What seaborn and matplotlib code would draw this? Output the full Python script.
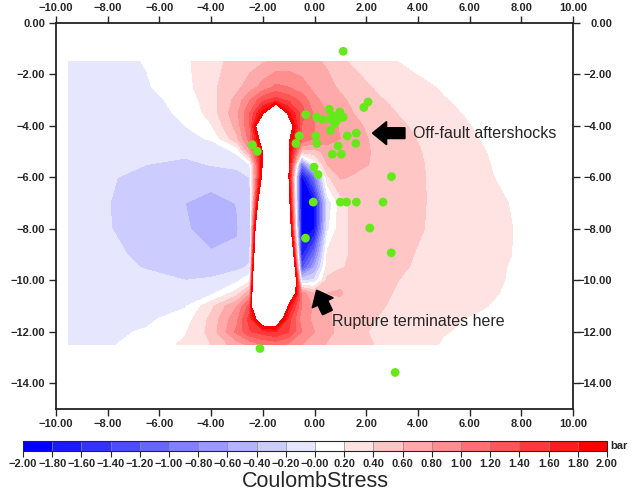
import matplotlib
matplotlib.use("Agg")
import matplotlib.pyplot as plt
import seaborn as sns
import numpy as np
import pandas as pd
from matplotlib.colors import ListedColormap, BoundaryNorm
from matplotlib.transforms import ScaledTranslation

# grid of the stress model (km)
x_km = [-9.5, -8.0, -6.5, -5.0, -4.0, -3.0, -2.5, -2.0, -1.5, -1.0, -0.5,
        0.0, 0.5, 1.0, 1.5, 2.5, 3.5, 5.0, 6.5, 8.0, 9.5]
depth_km = [-1.5, -2.5, -3.0, -3.5, -4.0, -4.5, -5.0, -5.5, -6.0, -7.0, -8.0,
            -9.0, -9.5, -10.0, -10.5, -11.0, -11.5, -12.0, -12.5]

# Coulomb stress change (bar), one row per depth; > 2 inside the rupture (left blank)
stress = [
    [-0.08, -0.06, 0.01, 0.16, 0.34, 0.46, 0.52, 0.58, 0.64, 0.68, 0.68, 0.63, 0.57, 0.43, 0.37, 0.25, 0.18, 0.11, 0.07, 0.04, 0.02],
    [-0.10, -0.08, -0.02, 0.13, 0.35, 0.55, 0.70, 0.88, 1.05, 1.00, 0.88, 0.75, 0.66, 0.57, 0.50, 0.36, 0.28, 0.18, 0.11, 0.06, 0.03],
    [-0.11, -0.10, -0.06, 0.07, 0.32, 0.67, 1.00, 1.35, 1.50, 1.35, 1.15, 0.85, 0.72, 0.64, 0.56, 0.42, 0.33, 0.21, 0.13, 0.07, 0.04],
    [-0.12, -0.11, -0.08, 0.04, 0.28, 0.75, 1.20, 1.90, 3.20, 1.85, 1.30, 0.95, 0.80, 0.70, 0.60, 0.46, 0.37, 0.24, 0.15, 0.08, 0.04],
    [-0.13, -0.12, -0.10, 0.00, 0.18, 0.68, 1.20, 3.00, 6.00, 2.40, 1.20, 1.00, 0.88, 0.78, 0.66, 0.50, 0.41, 0.27, 0.17, 0.09, 0.05],
    [-0.14, -0.14, -0.13, -0.06, 0.02, 0.55, 1.10, 2.40, 6.50, 2.10, 1.20, 0.98, 0.88, 0.80, 0.68, 0.54, 0.44, 0.30, 0.19, 0.10, 0.05],
    [-0.15, -0.16, -0.16, -0.15, -0.14, 0.03, 0.75, 2.05, 6.50, 2.05, 0.50, 0.50, 0.70, 0.75, 0.68, 0.56, 0.46, 0.32, 0.21, 0.11, 0.06],
    [-0.16, -0.18, -0.20, -0.25, -0.19, -0.12, 0.00, 2.10, 6.50, 2.10, -1.00, 0.05, 0.60, 0.72, 0.66, 0.56, 0.47, 0.33, 0.22, 0.12, 0.06],
    [-0.17, -0.19, -0.23, -0.30, -0.32, -0.33, -0.20, 2.30, 6.50, 2.10, -1.90, -1.00, 0.35, 0.62, 0.58, 0.52, 0.47, 0.34, 0.23, 0.13, 0.07],
    [-0.18, -0.195, -0.28, -0.40, -0.47, -0.395, -0.30, 3.50, 7.00, 2.45, -1.95, -1.85, -0.15, 0.30, 0.45, 0.50, 0.46, 0.35, 0.26, 0.17, 0.10],
    [-0.18, -0.19, -0.28, -0.38, -0.48, -0.41, -0.30, 5.40, 7.00, 3.00, -1.95, -1.80, -0.05, 0.32, 0.44, 0.49, 0.45, 0.35, 0.27, 0.18, 0.10],
    [-0.16, -0.17, -0.23, -0.30, -0.38, -0.38, -0.25, 7.00, 8.00, 4.50, -1.70, -1.00, 0.25, 0.35, 0.43, 0.47, 0.42, 0.33, 0.26, 0.18, 0.10],
    [-0.15, -0.15, -0.21, -0.27, -0.30, -0.25, -0.17, 8.50, 9.00, 5.30, -1.30, -0.60, 0.30, 0.38, 0.44, 0.47, 0.41, 0.32, 0.25, 0.17, 0.10],
    [-0.13, -0.12, -0.15, -0.20, -0.17, -0.05, 0.15, 9.00, 9.00, 5.40, -0.25, -0.15, 0.45, 0.55, 0.50, 0.46, 0.38, 0.30, 0.24, 0.17, 0.10],
    [-0.11, -0.10, -0.11, -0.14, -0.06, 0.30, 0.75, 8.60, 9.00, 3.30, 0.90, 0.60, 0.60, 0.62, 0.52, 0.44, 0.36, 0.29, 0.23, 0.16, 0.09],
    [-0.09, -0.08, -0.07, -0.02, 0.35, 0.80, 1.30, 7.50, 7.00, 1.85, 1.00, 0.75, 0.62, 0.55, 0.50, 0.42, 0.34, 0.27, 0.21, 0.14, 0.08],
    [-0.07, -0.06, -0.04, 0.10, 0.45, 0.95, 1.50, 2.60, 2.60, 1.50, 0.90, 0.75, 0.62, 0.55, 0.48, 0.39, 0.32, 0.23, 0.17, 0.12, 0.07],
    [-0.05, -0.04, 0.02, 0.18, 0.47, 1.05, 1.38, 1.50, 1.60, 1.40, 1.00, 0.80, 0.65, 0.55, 0.44, 0.37, 0.30, 0.21, 0.15, 0.10, 0.06],
    [-0.03, -0.02, 0.07, 0.24, 0.40, 0.70, 0.85, 1.00, 1.05, 0.95, 0.80, 0.68, 0.58, 0.50, 0.44, 0.39, 0.33, 0.18, 0.12, 0.08, 0.05],
]

# aftershocks (km)
eq_x = [1.11, 2.07, 1.91, -0.34, 0.08, 0.31, 0.57, 0.72, 0.85, 0.98, 1.11, 0.79, 0.60, 0.95,
        0.62, 1.27, 1.62, -0.59, 0.05, -0.72, 0.09, 0.91, 1.60, 0.69, 1.04, -0.02, 0.14,
        2.98, -0.05, 1.00, 1.24, 1.62, 2.65, 2.14, -0.35, 2.97, -2.40, -2.21, -2.11, 3.12]
eq_y = [-1.10, -3.07, -3.28, -3.56, -3.65, -3.76, -3.35, -3.61, -3.80, -3.46, -3.66, -3.90, -3.72, -3.70,
        -4.17, -4.39, -4.28, -4.39, -4.39, -4.68, -4.68, -4.78, -4.68, -5.10, -5.10, -5.60, -5.89,
        -5.97, -6.96, -6.96, -6.96, -6.96, -6.96, -7.97, -8.36, -8.93, -4.74, -4.99, -12.65, -13.58]

# annotations: arrow tail -> tip, text anchor
arrow1 = [(3.50, -4.28), (2.24, -4.28)]
arrow2 = [(0.50, -11.25), (0.08, -10.38)]
label1 = (3.80, -4.28, "Off-fault aftershocks")
label2 = (0.66, -11.60, "Rupture terminates here")

levels = np.round(np.arange(-2.0, 2.01, 0.2), 2)
blues = [(k / 10, k / 10, 1.0) for k in range(10)]
reds = [(1.0, 1 - k / 9, 1 - k / 9) for k in range(1, 10)]
cmap = ListedColormap(blues + [(1.0, 1.0, 1.0)] + reds)
norm = BoundaryNorm(levels, cmap.N)

sns.set_style("ticks")
plt.rcParams['font.family'] = ['Liberation Sans', 'DejaVu Sans']

fig = plt.figure(figsize=(6.35, 4.97), dpi=100)
ax = fig.add_axes([56 / 635, 1 - 409 / 497, 517 / 635, 386 / 497])
cax = fig.add_axes([23 / 635, 1 - 451 / 497, 584 / 635, 10 / 497])

cf = ax.contourf(x_km, depth_km, np.array(stress), levels=levels, cmap=cmap, norm=norm)

df_eq = pd.DataFrame({"x": eq_x, "y": eq_y})
sns.scatterplot(data=df_eq, x="x", y="y", ax=ax, color="#66e81a", s=40,
                edgecolor="none", zorder=5, legend=False)

for (tx, ty), (hx, hy) in [arrow1, arrow2]:
    ax.arrow(tx, ty, hx - tx, hy - ty, width=0.42, head_width=0.9, head_length=0.55,
             length_includes_head=True, color="black", zorder=6)
for lx, ly, txt in [label1, label2]:
    ax.text(lx, ly, txt, fontsize=11.5, ha="left", va="center", zorder=6)

ax.set_xlim(-10, 10)
ax.set_ylim(-15, 0)
ax.set_xticks(np.arange(-10, 10.1, 2))
ax.set_yticks(np.arange(-14, 0.1, 2))
ax.xaxis.set_major_formatter("{x:.2f}")
ax.yaxis.set_major_formatter("{x:.2f}")
ax.set_xlabel("")
ax.set_ylabel("")
ax.tick_params(direction="out", length=5, width=1, pad=3, labelsize=8,
               top=True, right=True, labeltop=True, labelright=True)
ax.tick_params(axis="x", which="major", pad=2)
for lbl in ax.get_xticklabels() + ax.get_yticklabels():
    lbl.set_fontweight("bold")
for s in ax.spines.values():
    s.set_linewidth(1.3)
    s.set_color("#222222")
fig.canvas.draw()
for t in ax.yaxis.get_major_ticks():
    t.label2.set_fontweight("bold")
    t.label2.set_horizontalalignment("right")
    t.label2.set_transform(t.label2.get_transform() +
                           ScaledTranslation(28 / 100, 0, fig.dpi_scale_trans))

cb = fig.colorbar(cf, cax=cax, orientation="horizontal", ticks=levels, drawedges=True)
cb.dividers.set_color("#888888")
cb.dividers.set_linewidth(0.5)
cb.outline.set_linewidth(0.8)
cb.ax.xaxis.set_major_formatter("{x:.2f}")
cb.ax.tick_params(length=4, width=0.8, pad=2, labelsize=8)
for lbl in cb.ax.get_xticklabels():
    lbl.set_fontweight("bold")
cb.set_label("CoulombStress", fontsize=15.5, labelpad=1)
cax.text(1.006, 0.5, "bar", transform=cax.transAxes, va="center", ha="left",
         fontsize=8, fontweight="bold")

fig.savefig("out.png", dpi=100)
